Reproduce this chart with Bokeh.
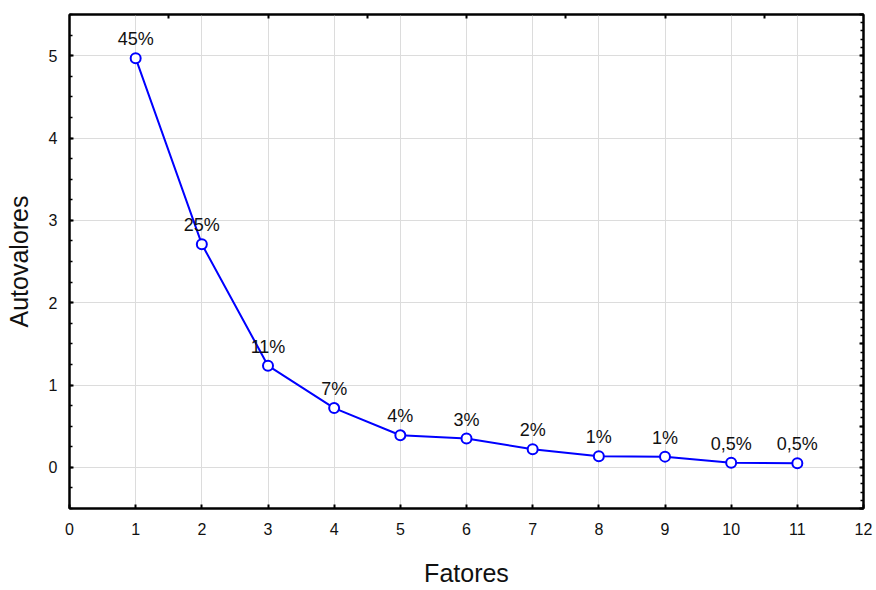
from bokeh.plotting import figure
from bokeh.models import (LinearAxis, FixedTicker, ColumnDataSource, Range1d)
from bokeh.core.properties import value
from bokeh.embed import file_html
from bokeh.resources import INLINE

factors = [1, 2, 3, 4, 5, 6, 7, 8, 9, 10, 11]
eigenvalues = [4.97, 2.71, 1.235, 0.72, 0.39, 0.35, 0.22, 0.135, 0.13, 0.057, 0.05]
pct_labels = ["45%", "25%", "11%", "7%", "4%", "3%", "2%", "1%", "1%", "0,5%", "0,5%"]
x_ticks = list(range(0, 13))
y_ticks = [0, 1, 2, 3, 4, 5]

FONT = "Liberation Sans"

src = ColumnDataSource(dict(x=factors, y=eigenvalues, lab=pct_labels))

p = figure(width=876, height=590, output_backend="svg", toolbar_location=None,
           x_range=Range1d(0, 12), y_range=Range1d(-0.5, 5.5),
           x_axis_location=None, y_axis_location=None)
p.min_border_left = 69
p.min_border_right = 13
p.min_border_top = 14
p.min_border_bottom = 82
p.background_fill_color = "white"
p.border_fill_color = "white"
p.outline_line_color = "black"
p.outline_line_width = 2

# bottom axis
xb = LinearAxis(ticker=FixedTicker(ticks=x_ticks), axis_label="Fatores")
# left axis
yl = LinearAxis(ticker=FixedTicker(ticks=y_ticks,
                minor_ticks=[i * 0.25 - 0.5 for i in range(25)]),
                axis_label="Autovalores")
# top axis
xt = LinearAxis(ticker=FixedTicker(ticks=[1.5, 3, 4.5, 6, 7.5, 9, 10.5]))
# right axis
yr = LinearAxis(ticker=FixedTicker(ticks=[i * 0.5 - 0.5 for i in range(13)],
                minor_ticks=[round(i * 0.1 - 0.5, 2) for i in range(61)]))

for ax in (xb, yl, xt, yr):
    ax.axis_line_color = "black"
    ax.axis_line_width = 2
    ax.major_tick_in = 4
    ax.major_tick_out = 0
    ax.major_tick_line_width = 2
    ax.major_tick_line_color = "black"
    ax.minor_tick_in = 3
    ax.minor_tick_out = 0
    ax.minor_tick_line_width = 1.5
    ax.minor_tick_line_color = "black"
    ax.major_label_text_font = FONT
    ax.major_label_text_font_size = "16px"
    ax.major_label_text_color = "#111111"
    ax.axis_label_text_font = FONT
    ax.axis_label_text_font_size = "25px"
    ax.axis_label_text_font_style = "normal"
    ax.axis_label_text_color = "#111111"

xb.minor_tick_line_color = None
xb.major_label_standoff = 14
xb.axis_label_standoff = 21
yl.major_label_standoff = 12
yl.axis_label_standoff = 13

for ax in (xt, yr):
    ax.major_label_text_font_size = "1px"
    ax.major_label_text_color = None
    ax.major_label_standoff = 0
xt.minor_tick_line_color = None

p.add_layout(xb, "below")
p.add_layout(yl, "left")
p.add_layout(xt, "above")
p.add_layout(yr, "right")

p.xgrid.ticker = FixedTicker(ticks=list(range(1, 12)))
p.ygrid.ticker = FixedTicker(ticks=y_ticks)
p.xgrid.grid_line_color = "#dcdcdc"
p.ygrid.grid_line_color = "#dcdcdc"
p.xgrid.grid_line_width = 1
p.ygrid.grid_line_width = 1

p.line("x", "y", source=src, line_color="#0000ff", line_width=2)
p.scatter("x", "y", source=src, size=10, marker="circle", line_color="#0000ff",
          line_width=2, fill_color="white")
p.text("x", "y", text="lab", source=src, text_align="center", text_baseline="middle",
       y_offset=-19, text_font=value(FONT), text_font_size="18px", text_color="#111111")

open("out.html", "w").write(file_html(p, INLINE))
